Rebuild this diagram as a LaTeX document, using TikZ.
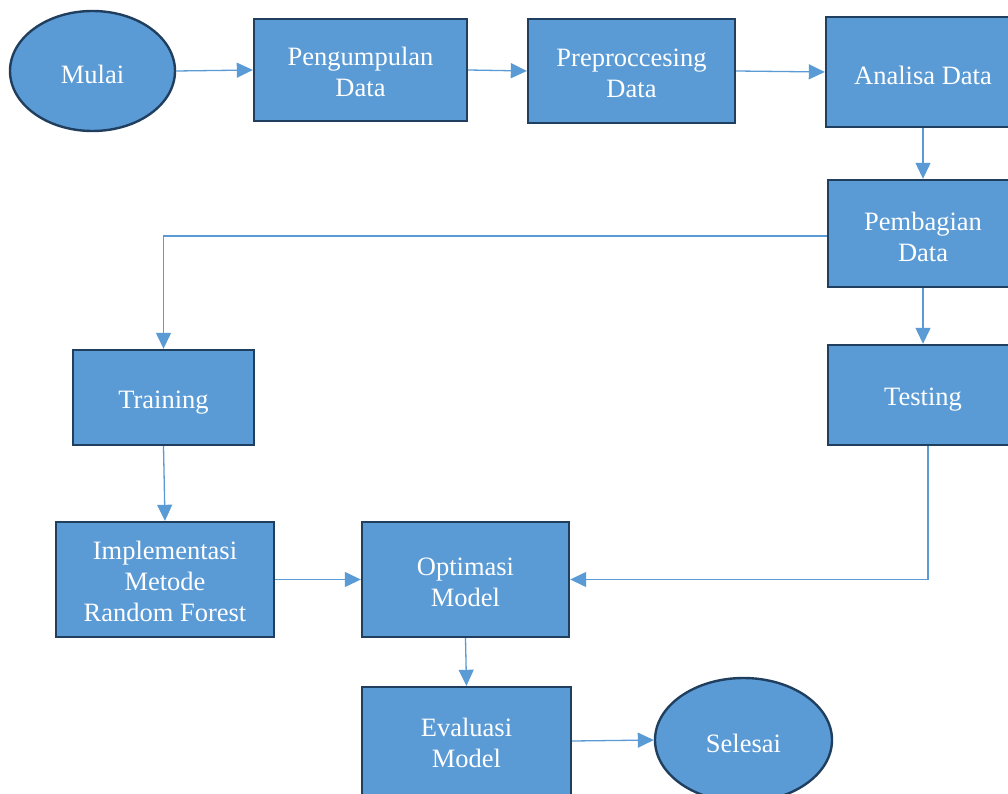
\documentclass[tikz,border=0pt]{standalone}
\usepackage{fontspec}
\setmainfont{Liberation Serif}
\usetikzlibrary{arrows.meta,shapes.geometric}
\definecolor{boxfill}{HTML}{5B9BD5}
\definecolor{boxline}{HTML}{203F5F}
\definecolor{arrowc}{HTML}{5B9BD5}
\begin{document}
\begin{tikzpicture}[x=1pt,y=-1pt,
  box/.style={draw=boxline,line width=2.4pt,fill=boxfill,inner sep=0pt},
  oval/.style={box,ellipse},
  lbl/.style={text=white,align=center,inner sep=0pt,yshift=-3pt,
    font=\fontsize{26.5}{31}\selectfont},
  conn/.style={draw=arrowc,line width=1.3pt,-{Triangle[length=16pt,width=15pt]}}]
\clip (0,0) rectangle (1008,794);
\fill[white] (0,0) rectangle (1008,794);
\node[oval,minimum width=165pt,minimum height=120pt,label={[lbl]center:Mulai}] (mulai) at (92.5,71) {};
\node[box,minimum width=213pt,minimum height=102pt,label={[lbl,yshift=1pt]center:Pengumpulan\\Data}] (peng) at (360.5,70) {};
\node[box,minimum width=207pt,minimum height=104pt,label={[lbl,yshift=1pt]center:Preproccesing\\Data}] (prep) at (631.5,71) {};
\node[box,minimum width=194pt,minimum height=110pt,label={[lbl]center:Analisa Data}] (anal) at (923,72) {};
\node[box,minimum width=190pt,minimum height=107pt,label={[lbl]center:Pembagian\\Data}] (pemb) at (923,233.5) {};
\node[box,minimum width=190pt,minimum height=100pt,label={[lbl,yshift=-2pt]center:Testing}] (test) at (923,395) {};
\node[box,minimum width=181pt,minimum height=95pt,label={[lbl,yshift=-2pt]center:Training}] (train) at (163.5,397.5) {};
\node[box,minimum width=218pt,minimum height=115pt,label={[lbl,yshift=1pt]center:Implementasi\\Metode\\Random Forest}] (impl) at (165,579.5) {};
\node[box,minimum width=207pt,minimum height=115pt,label={[lbl]center:Optimasi\\Model}] (opt) at (465.5,579.5) {};
\node[box,minimum width=209pt,minimum height=108pt,label={[lbl,yshift=1pt]center:Evaluasi\\Model}] (eval) at (466.5,741) {};
\node[oval,minimum width=177pt,minimum height=124pt,label={[lbl]center:Selesai}] (sel) at (743.5,740) {};
\draw[conn] (mulai.east) -- (peng.west);
\draw[conn] (peng.east) -- (prep.west);
\draw[conn] (prep.east) -- (anal.west);
\draw[conn] (anal.south) -- (pemb.north);
\draw[conn] ([yshift=-2.5pt]pemb.west) -| (train.north);
\draw[conn] (pemb.south) -- (test.north);
\draw[conn] (train.south) -- (impl.north);
\draw[conn] (impl.east) -- (opt.west);
\draw[conn] ([xshift=5pt]test.south) |- (opt.east);
\draw[conn] (opt.south) -- (eval.north);
\draw[conn] (eval.east) -- (sel.west);
\end{tikzpicture}
\end{document}
